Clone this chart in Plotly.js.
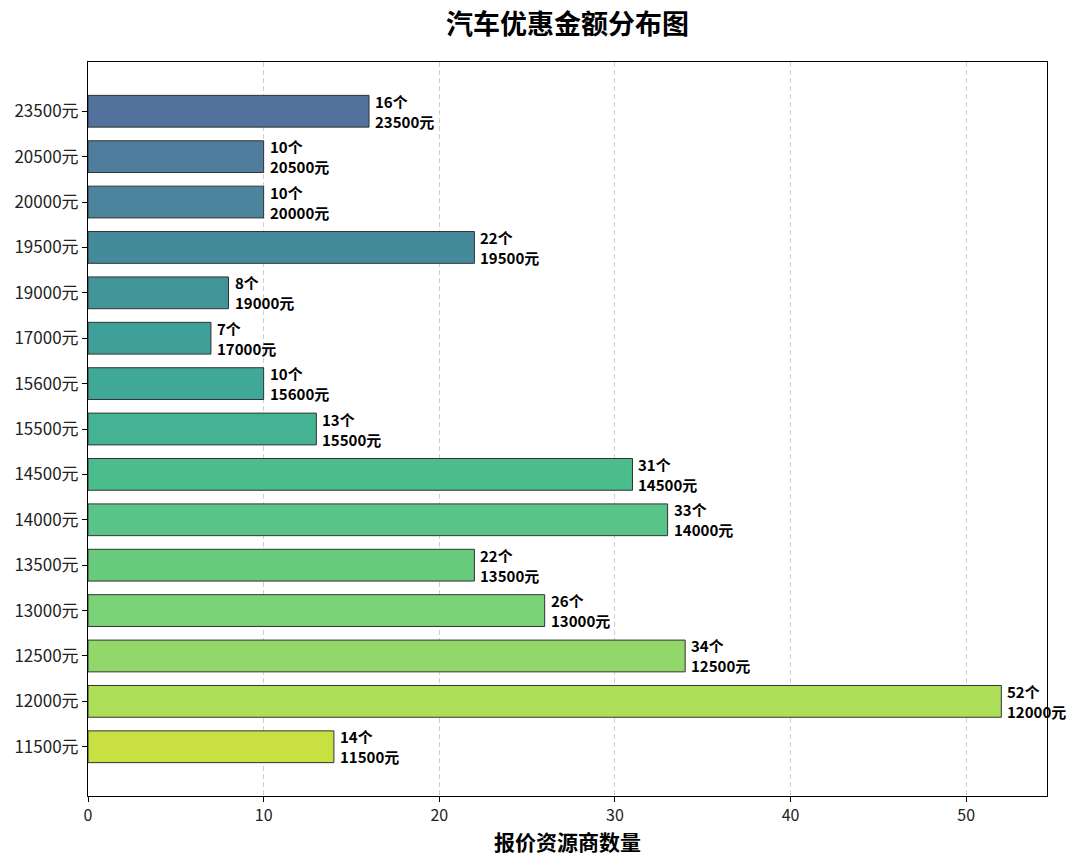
<!DOCTYPE html>
<html>
<head>
<meta charset="utf-8">
<script src="https://cdn.plot.ly/plotly-3.0.1.min.js"></script>
<style>html,body{margin:0;padding:0;background:#fff;}#chart{width:1080px;height:862px;}</style>
</head>
<body>
<div id="chart"></div>
<script>
const categories = ["11500元","12000元","12500元","13000元","13500元","14000元","14500元","15500元","15600元","17000元","19000元","19500元","20000元","20500元","23500元"];
const amounts = ["11500","12000","12500","13000","13500","14000","14500","15500","15600","17000","19000","19500","20000","20500","23500"];
const counts = [14,52,34,26,22,33,31,13,10,7,8,22,10,10,16];
const barColors = ["#c8e141","#aedf59","#91d769","#7bd175","#68cb7c","#58c487","#4bbc8c","#43b393","#3fa896","#3e9f98","#419599","#458a9b","#4a859d","#4e7d9d","#52719d"];

const FONT = "'Noto Sans CJK SC', 'Microsoft YaHei', sans-serif";

const trace = {
  type: "bar",
  orientation: "h",
  x: counts,
  y: categories,
  width: 0.7,
  marker: {color: barColors, line: {color: "#333333", width: 1}},
  hoverinfo: "x+y"
};

const annotations = counts.map((c, i) => ({
  x: c, y: categories[i], xref: "x", yref: "y",
  text: "<b>" + c + "个<br>" + amounts[i] + "元</b>",
  showarrow: false, xanchor: "left", yanchor: "middle", align: "left",
  xshift: 4,
  font: {family: FONT, size: 15, color: "#000"}
}));

const layout = {
  width: 1080, height: 862,
  margin: {l: 88, r: 33, t: 62, b: 66},
  paper_bgcolor: "#fff", plot_bgcolor: "#fff",
  font: {family: FONT, color: "#000"},
  title: {text: "<b>汽车优惠金额分布图</b>", x: 0.5, xref: "paper", xanchor: "center", y: 0.972, yref: "container", yanchor: "middle", font: {family: FONT, size: 27, color: "#000"}},
  xaxis: {
    range: [0, 54.6], tickvals: [0,10,20,30,40,50], ticks: "outside", ticklen: 5, tickcolor: "#000",
    tickfont: {family: FONT, size: 16, color: "#222"},
    showgrid: true, gridcolor: "#d0d0d0", griddash: "5px,3px", gridwidth: 1,
    showline: true, linecolor: "#000", linewidth: 1, mirror: true, zeroline: false,
    title: {text: "<b>报价资源商数量</b>", font: {family: FONT, size: 21, color: "#000"}, standoff: 6}
  },
  yaxis: {
    type: "category", categoryorder: "array", categoryarray: categories,
    range: [-1.085, 15.085], ticks: "outside", ticklen: 5, tickcolor: "#000",
    tickfont: {family: FONT, size: 17, color: "#222"},
    showgrid: false, showline: true, linecolor: "#000", linewidth: 1, mirror: true, zeroline: false
  },
  annotations: annotations,
  showlegend: false,
  bargap: 0.3
};

Plotly.newPlot("chart", [trace], layout, {displayModeBar: false, staticPlot: true});
</script>
</body>
</html>
